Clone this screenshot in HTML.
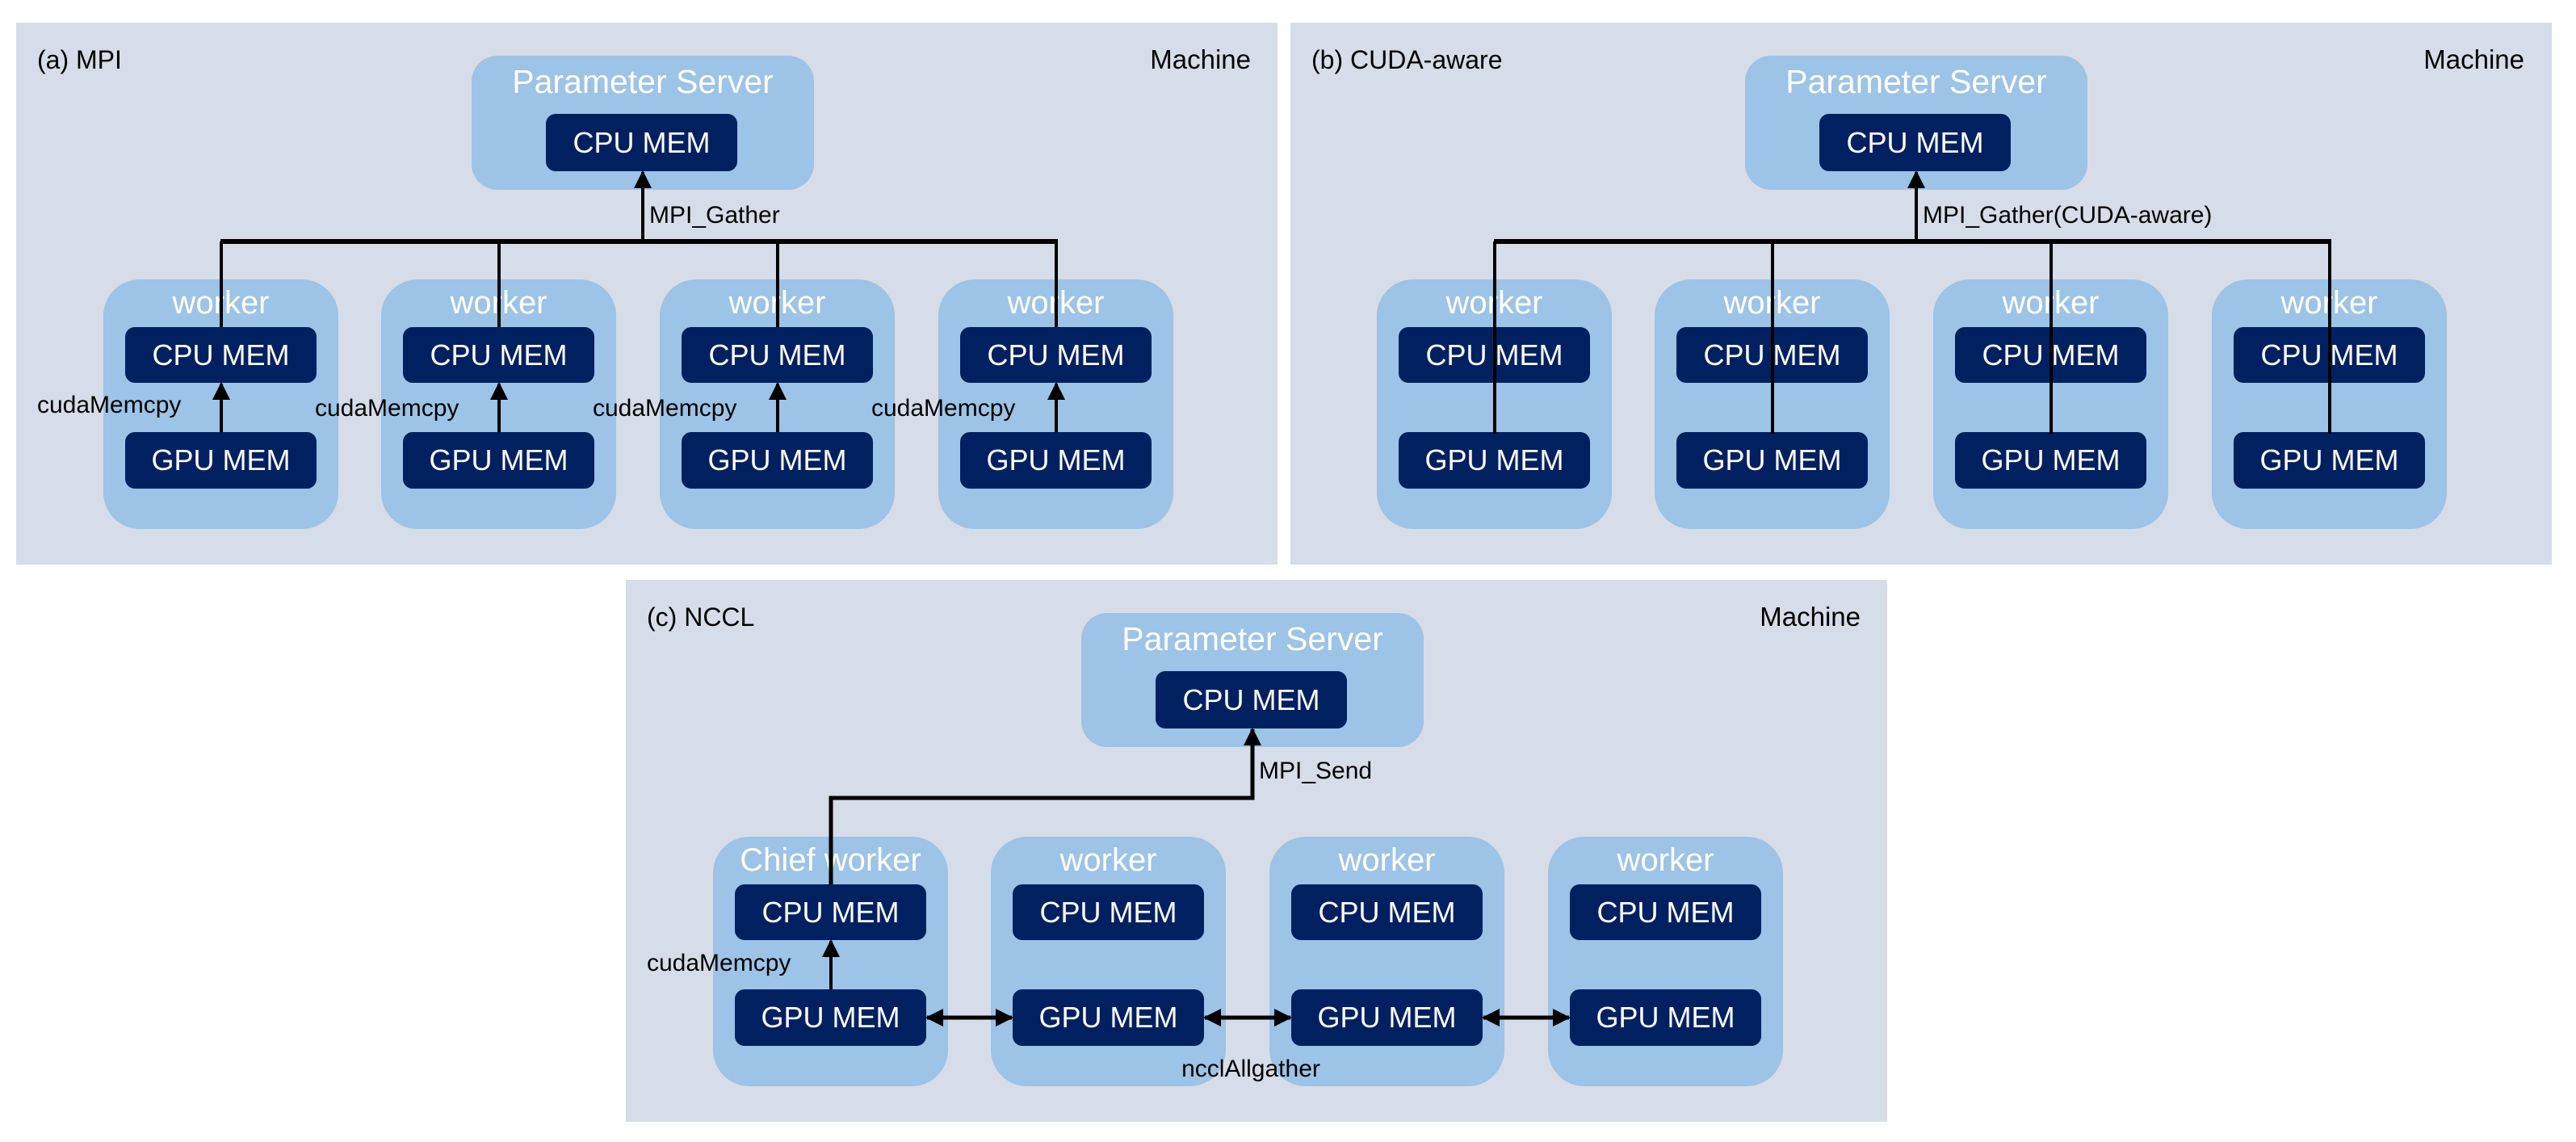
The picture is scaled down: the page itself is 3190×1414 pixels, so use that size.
<!DOCTYPE html>
<html><head><meta charset="utf-8"><style>
html,body{margin:0;padding:0;background:#fff;}
svg{display:block;}
text{font-family:"Liberation Sans",sans-serif;}
.w{fill:#fff;text-anchor:middle;}
.k{fill:#000;}
</style></head><body>
<svg width="3190" height="1414" viewBox="0 0 3190 1414" xmlns="http://www.w3.org/2000/svg">
<defs>
<marker id="ah" markerWidth="22" markerHeight="22" viewBox="0 0 22 22" refX="20" refY="11" orient="auto" markerUnits="userSpaceOnUse">
<path d="M0,0 L22,11 L0,22 z" fill="#000"/>
</marker>
<marker id="ahs" markerWidth="22" markerHeight="22" viewBox="0 0 22 22" refX="2" refY="11" orient="auto" markerUnits="userSpaceOnUse">
<path d="M22,0 L0,11 L22,22 z" fill="#000"/>
</marker>
<g id="ps">
<rect x="584" y="69" width="424" height="166" rx="32" fill="#9dc3e6"/>
<text x="796" y="115" class="w" font-size="41">Parameter Server</text>
<rect x="676" y="141" width="237" height="71" rx="12" fill="#002060"/>
<text x="794.5" y="189" class="w" font-size="36">CPU MEM</text>
</g>
<g id="wk">
<rect x="0" y="346" width="291" height="309" rx="45" fill="#9dc3e6"/>
<rect x="27" y="405" width="237" height="69" rx="12" fill="#002060"/>
<text x="145.5" y="452" class="w" font-size="36">CPU MEM</text>
<rect x="27" y="535" width="237" height="70" rx="12" fill="#002060"/>
<text x="145.5" y="582" class="w" font-size="36">GPU MEM</text>
</g>
</defs>

<!-- Panel A -->
<g transform="translate(0,0)">
<rect x="20" y="28" width="1562" height="671" fill="#d6dde8"/>
<text x="46" y="85" class="k" font-size="32">(a) MPI</text>
<text x="1549" y="85" class="k" font-size="33" text-anchor="end">Machine</text>
<use href="#ps"/>
<g transform="translate(128,0)"><use href="#wk"/><text x="145.5" y="388" class="w" font-size="40">worker</text></g>
<g transform="translate(472,0)"><use href="#wk"/><text x="145.5" y="388" class="w" font-size="40">worker</text></g>
<g transform="translate(817,0)"><use href="#wk"/><text x="145.5" y="388" class="w" font-size="40">worker</text></g>
<g transform="translate(1162,0)"><use href="#wk"/><text x="145.5" y="388" class="w" font-size="40">worker</text></g>
<line x1="273" y1="299" x2="1310" y2="299" stroke="#000" stroke-width="6"/>
<line x1="796" y1="299" x2="796" y2="213" stroke="#000" stroke-width="4" marker-end="url(#ah)"/>
<text x="804" y="276" class="k" font-size="30">MPI_Gather</text>
<g stroke="#000" stroke-width="4">
<line x1="274" y1="299" x2="274" y2="405"/><line x1="618" y1="299" x2="618" y2="405"/>
<line x1="963" y1="299" x2="963" y2="405"/><line x1="1308" y1="299" x2="1308" y2="405"/>
<line x1="274" y1="535" x2="274" y2="475" marker-end="url(#ah)"/>
<line x1="618" y1="535" x2="618" y2="475" marker-end="url(#ah)"/>
<line x1="963" y1="535" x2="963" y2="475" marker-end="url(#ah)"/>
<line x1="1308" y1="535" x2="1308" y2="475" marker-end="url(#ah)"/>
</g>
<text x="46" y="511" class="k" font-size="30">cudaMemcpy</text>
<text x="390" y="515" class="k" font-size="30">cudaMemcpy</text>
<text x="734" y="515" class="k" font-size="30">cudaMemcpy</text>
<text x="1079" y="515" class="k" font-size="30">cudaMemcpy</text>
</g>

<!-- Panel B -->
<rect x="1598" y="28" width="1562" height="671" fill="#d6dde8"/>
<g transform="translate(1577,0)">
<text x="47" y="85" class="k" font-size="32">(b) CUDA-aware</text>
<text x="1549" y="85" class="k" font-size="33" text-anchor="end">Machine</text>
<use href="#ps"/>
<g transform="translate(128,0)"><use href="#wk"/><text x="145.5" y="388" class="w" font-size="40">worker</text></g>
<g transform="translate(472,0)"><use href="#wk"/><text x="145.5" y="388" class="w" font-size="40">worker</text></g>
<g transform="translate(817,0)"><use href="#wk"/><text x="145.5" y="388" class="w" font-size="40">worker</text></g>
<g transform="translate(1162,0)"><use href="#wk"/><text x="145.5" y="388" class="w" font-size="40">worker</text></g>
<line x1="273" y1="299" x2="1310" y2="299" stroke="#000" stroke-width="6"/>
<line x1="796" y1="299" x2="796" y2="213" stroke="#000" stroke-width="4" marker-end="url(#ah)"/>
<text x="804" y="276" class="k" font-size="30">MPI_Gather(CUDA-aware)</text>
<g stroke="#000" stroke-width="4">
<line x1="274" y1="299" x2="274" y2="537"/><line x1="618" y1="299" x2="618" y2="537"/>
<line x1="963" y1="299" x2="963" y2="537"/><line x1="1308" y1="299" x2="1308" y2="537"/>
</g>
</g>

<!-- Panel C -->
<g transform="translate(755,690)">
<rect x="20" y="28" width="1562" height="671" fill="#d6dde8"/>
<text x="46" y="85" class="k" font-size="32">(c) NCCL</text>
<text x="1549" y="85" class="k" font-size="33" text-anchor="end">Machine</text>
<use href="#ps"/>
<g transform="translate(128,0)"><use href="#wk"/><text x="145.5" y="388" class="w" font-size="40">Chief worker</text></g>
<g transform="translate(472,0)"><use href="#wk"/><text x="145.5" y="388" class="w" font-size="40">worker</text></g>
<g transform="translate(817,0)"><use href="#wk"/><text x="145.5" y="388" class="w" font-size="40">worker</text></g>
<g transform="translate(1162,0)"><use href="#wk"/><text x="145.5" y="388" class="w" font-size="40">worker</text></g>
<path d="M274,405 L274,298 L796,298 L796,213" fill="none" stroke="#000" stroke-width="5" marker-end="url(#ah)"/>
<text x="804" y="274" class="k" font-size="30">MPI_Send</text>
<line x1="274" y1="535" x2="274" y2="475" stroke="#000" stroke-width="4" marker-end="url(#ah)"/>
<text x="46" y="512" class="k" font-size="30">cudaMemcpy</text>
<g stroke="#000" stroke-width="5">
<line x1="393" y1="570" x2="498" y2="570" marker-start="url(#ahs)" marker-end="url(#ah)"/>
<line x1="737" y1="570" x2="843" y2="570" marker-start="url(#ahs)" marker-end="url(#ah)"/>
<line x1="1082" y1="570" x2="1188" y2="570" marker-start="url(#ahs)" marker-end="url(#ah)"/>
</g>
<text x="794" y="643" class="k" font-size="30" text-anchor="middle">ncclAllgather</text>
</g>
</svg>
</body></html>
